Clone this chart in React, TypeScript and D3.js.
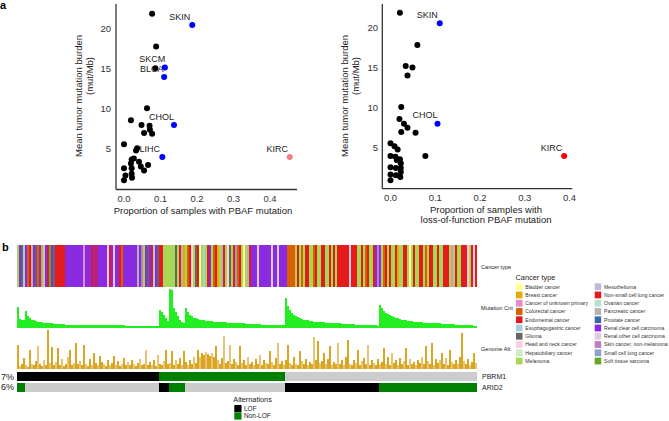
import React from 'react';
import * as d3 from 'd3';

// ---- panel a data ----
const xTicks = [0, 0.1, 0.2, 0.3, 0.4];
const yTicks = [5, 10, 15, 20];

// proportion of samples with PBAF mutation vs mean TMB (0 = other, 1 = highlighted, 2 = KIRC)
const pbafX = [0.077, 0.187, 0.088, 0.086, 0.112, 0.11, 0.063, 0.137, 0.019, 0.048, 0.07, 0.071, 0.055, 0.077,
  0.0, 0.036, 0.033, 0.105, 0.454, 0.021, 0.027, 0.041, 0.019, 0.0, 0.021, 0.046, 0.066, 0.055, 0.021, 0.022, 0.004, 0.0];
const pbafY = [21.9, 20.5, 17.8, 15.1, 15.2, 14.0, 10.1, 8.0, 8.6, 8.0, 7.9, 7.4, 7.0, 6.9,
  5.6, 5.1, 4.8, 4.0, 4.0, 3.7, 3.8, 3.4, 3.2, 2.6, 2.6, 2.8, 3.0, 2.3, 1.9, 1.4, 1.7, 1.1];
const pbafGroup = [0, 1, 0, 0, 1, 1, 0, 1, 0, 0, 0, 0, 0, 0, 0, 0, 0, 1, 2, 0, 0, 0, 0, 0, 0, 0, 0, 0, 0, 0, 0, 0];
const pbafLabelIdx = [1, 4, 5, 7, 17, 18];
const pbafLabelText = ['SKIN', 'SKCM', 'BLCA', 'CHOL', 'LIHC', 'KIRC'];

// proportion with loss-of-function PBAF mutation vs mean TMB
const lofX = [0.021, 0.11, 0.06, 0.034, 0.049, 0.038, 0.024, 0.105, 0.02, 0.03, 0.038, 0.024, 0.056, 0.0,
  0.009, 0.016, 0.078, 0.388, 0.0, 0.011, 0.021, 0.023, 0.014, 0.0, 0.012, 0.023, 0.023, 0.0, 0.012, 0.022, 0.0];
const lofY = [21.8, 20.5, 17.8, 15.2, 15.0, 14.0, 10.1, 8.0, 8.6, 8.0, 7.5, 7.0, 6.9, 5.6,
  5.2, 4.8, 4.0, 4.0, 4.0, 3.9, 3.6, 3.1, 3.5, 2.6, 2.5, 2.5, 2.0, 1.7, 1.6, 1.4, 1.0];
const lofGroup = [0, 1, 0, 0, 0, 0, 0, 1, 0, 0, 0, 0, 0, 0, 0, 0, 0, 2, 0, 0, 0, 0, 0, 0, 0, 0, 0, 0, 0, 0, 0];
const lofLabelIdx = [1, 7, 17];
const lofLabelText = ['SKIN', 'CHOL', 'KIRC'];

// ---- panel b data ----
const cancerTypes = ['Bladder cancer', 'Breast cancer', 'Cancer of unknown primary', 'Colorectal cancer',
  'Endometrial cancer', 'Esophagogastric cancer', 'Glioma', 'Head and neck cancer', 'Hepatobiliary cancer',
  'Melanoma', 'Mesothelioma', 'Non-small cell lung cancer', 'Ovarian cancer', 'Pancreatic cancer',
  'Prostate cancer', 'Renal clear cell carcinoma', 'Renal other cell carcinoma', 'Skin cancer, non-melanoma',
  'Small cell lung cancer', 'Soft tissue sarcoma'];
const cancerCodes = 'abcdefghijklmnopqrst';
const cancerColors = ['#ffff99', '#e6ab02', '#e78ac3', '#d95f02', '#e31a1c', '#a6cee3', '#666666', '#fccde5',
  '#ccebc5', '#a6d854', '#bebada', '#e41a1c', '#b3e2cd', '#b3b3b3', '#386cb0', '#8a2be2', '#decbe4',
  '#bc80bd', '#8da0cb', '#66a61e'];

// one letter per sample (cancerCodes)
const sampleTypes = [
  'jpgfpdlnpgdpbfpltpg', 'lllll', 'ppppppppp', 'c', 'ppplplpppppqlpqppldp', 'pppppp', 'nprjpgplfpgl',
  'ljjjjjj', 'gjlnbjdlhjglajfjlpjdlbjnljhgjlsdljajnl', 'pppqppppppqppqpppp', 'dddd', 'jljdjlljjdljjlljjl',
  'jlj', 'llllllhlll', 'jjljdljjl', 'prp', 'jdljljjlbjjlljajljjlljdjlljjljjllljcjljjlllhjlhl',
].join('');

const mutationCnt = [
  54, 22, 21, 20,
  42, 30, 24, 21, 19, 17, 16, 15, 14, 13, 12, 12, 11, 11, 10, 10, 10, 9, 9, 9, 8, 8, 8, 8, 7, 7, 7, 7, 7, 7,
  7, 7, 6, 6, 6, 6, 6, 6, 6, 6, 6, 6, 6, 6, 6, 6, 6, 6, 6, 6, 5, 5, 5, 5, 5, 5, 5, 5, 5, 5, 5, 5, 4, 4, 4, 4, 4,
  46, 40, 34, 24, 17,
  100, 98, 51, 40, 30, 21, 16, 11,
  51, 40, 33, 29, 26, 24, 22, 21, 20, 19, 18, 18, 17, 17, 16, 16, 15, 15, 15, 14, 14, 13, 13, 13, 12, 12, 12,
  11, 11, 11, 10, 10, 10, 10, 9, 9, 9, 9, 8, 8, 8, 8, 8, 7, 7, 7, 7, 6, 6, 6,
  77, 55, 45, 38, 33, 30, 27, 25, 23, 21, 20, 19, 18, 17, 16, 16, 15, 15, 14, 14, 13, 13, 12, 12, 12, 11, 11,
  11, 10, 10, 10, 9, 9, 9, 9, 8, 8, 8, 8, 8, 7, 7, 7, 6, 6, 6, 5,
  59, 50, 44, 39, 35, 32, 29, 27, 25, 24, 22, 21, 20, 19, 18, 17, 17, 16, 15, 15, 14, 14, 13, 13, 13, 12, 12,
  12, 11, 11, 11, 10, 10, 10, 9, 9, 9, 9, 8, 8, 8, 8, 7, 7, 7, 6, 6, 5, 4,
];

const genomeAlt = [
  62, 8, 12, 28, 10, 6, 50, 14, 9, 20, 58, 12, 7, 22, 10, 100, 15, 57, 9, 18,
  54, 11, 25, 8, 14, 30, 50, 10, 16, 67, 12, 20, 9, 62, 14, 8, 26, 11, 41, 15,
  9, 33, 18, 12, 7, 24, 10, 15, 33, 11, 20, 8, 14, 28, 10, 17, 9, 22, 12, 8,
  15, 26, 10, 13, 50, 9, 18, 11, 24, 8, 37, 14, 10, 20, 48, 12, 16, 46, 9, 22,
  14, 28, 11, 46, 18, 10, 24, 13, 30, 15, 50, 32, 40, 36, 44, 38, 34, 42, 30, 58,
  22, 14, 28, 84, 16, 20, 62, 12, 26, 18, 10, 58, 15, 24, 9, 30, 13, 19, 11, 26,
  14, 37, 10, 22, 16, 12, 46, 18, 9, 28, 67, 12, 20, 10, 24, 62, 15, 9, 30, 14,
  11, 46, 20, 13, 26, 10, 18, 12, 82, 24, 72, 15, 20, 41, 12, 26, 58, 10, 18, 14,
  67, 12, 24, 10, 30, 75, 14, 9, 22, 16, 50, 11, 20, 28, 13, 62, 10, 24, 15, 9,
  26, 14, 18, 54, 12, 30, 10, 41, 16, 22, 9, 28, 14, 20, 54, 11, 26, 13, 18, 10,
  24, 15, 30, 12, 58, 20, 14, 67, 10, 26, 16, 22, 41, 12, 28, 9, 50, 18, 14, 24,
  12, 30, 92, 20, 14, 26, 10, 18, 41, 15,
];

const genes = ['PBRM1', 'ARID2'];
const genePct = ['7%', '6%'];
// runs of [alteration, sample count]
const pbrm1Runs: [string, number][] = [['LOF', 71], ['Non-LOF', 63], ['none', 96]];
const arid2Runs: [string, number][] = [['Non-LOF', 4], ['none', 67], ['LOF', 5], ['Non-LOF', 8], ['none', 50], ['LOF', 47], ['Non-LOF', 49]];
const altTypes = ['LOF', 'Non-LOF'];

const FONT = 'Liberation Sans, Arial, Helvetica, sans-serif';
const altColor: Record<string, string> = { LOF: '#000000', 'Non-LOF': '#008000', none: '#cccccc' };
const dotColor = ['#000000', '#0000ff'];

function Scatter({ xs, ys, groups, labelIdx, labelText, axisX, axisTop, axisRight, x0, x04, y0, y20, kircColor, titleLines, titleX, tickRight }: any) {
  const x = d3.scaleLinear().domain([0, 0.4]).range([x0, x04]);
  const y = d3.scaleLinear().domain([0, 20]).range([y0, y20]);
  const axisY = y0 + 0.5;
  return (
    <g fontFamily={FONT}>
      <line x1={axisX} x2={axisX} y1={axisTop} y2={axisY} stroke="#333" strokeWidth={1.3} />
      <line x1={axisX} x2={axisRight} y1={axisY} y2={axisY} stroke="#333" strokeWidth={1.3} />
      {yTicks.map(t => (
        <text key={t} x={tickRight} y={y(t)} dy="0.35em" textAnchor="end" fontSize={9.5} fill="#333">{t}</text>
      ))}
      {xTicks.map(t => (
        <text key={t} x={x(t)} y={axisY + 12.5} textAnchor="middle" fontSize={9.5} fill="#333">{d3.format('.1f')(t)}</text>
      ))}
      {labelIdx.map((i: number, k: number) => (
        <text key={k} x={x(xs[i]) - 12.5} y={y(ys[i]) - 8.5} dy="0.35em" textAnchor="middle" fontSize={9} fill="#222">{labelText[k]}</text>
      ))}
      {xs.map((v: number, i: number) => (
        <circle key={i} cx={x(v)} cy={y(ys[i])} r={3} fill={groups[i] === 2 ? kircColor : dotColor[groups[i]]} />
      ))}
      {titleLines.map((s: string, k: number) => (
        <text key={k} x={(x0 + x04) / 2 + 6} y={axisY + 24.5 + k * 10} textAnchor="middle" fontSize={9.5} fill="#222">{s}</text>
      ))}
      <text transform={`translate(${titleX},96) rotate(-90)`} textAnchor="middle" fontSize={9.5} fill="#222">Mean tumor mutation burden</text>
      <text transform={`translate(${titleX + 11},76) rotate(-90)`} textAnchor="middle" fontSize={9.5} fill="#222">(mut/Mb)</text>
    </g>
  );
}

function runsToRects(runs: [string, number][]) {
  let start = 0;
  return runs.map(([type, n]) => {
    const r = { type, start, n };
    start += n;
    return r;
  });
}

export default function App() {
  const N = sampleTypes.length;
  const X0 = 17.3, X1 = 476.7;
  const sx = d3.scaleLinear().domain([0, N]).range([X0, X1]);
  const mx = d3.scaleLinear().domain([0, mutationCnt.length]).range([X0, X1]);
  const gx = d3.scaleLinear().domain([0, genomeAlt.length]).range([X0, X1]);
  const my = d3.scaleLinear().domain([0, 100]).range([327.7, 289]);
  const gy = d3.scaleLinear().domain([0, 100]).range([369, 330]);
  const ax = d3.scaleLinear().domain([0, 230]).range([X0, X1]);
  const rowY = [372.3, 382.7];
  const rowH = 8.9;
  const legendRow = d3.scaleLinear().domain([0, 1]).range([283.3, 291.56]);

  return (
    <svg width={669} height={421} style={{ position: 'absolute', left: 0, top: 0, background: '#fff' }}>
      <text x={0} y={9} fontFamily={FONT} fontWeight="bold" fontSize={11}>a</text>
      <text x={2} y={251} fontFamily={FONT} fontWeight="bold" fontSize={11}>b</text>

      <Scatter xs={pbafX} ys={pbafY} groups={pbafGroup} labelIdx={pbafLabelIdx} labelText={pbafLabelText}
        axisX={116} axisTop={4} axisRight={297} x0={124} x04={270} y0={189} y20={29} kircColor="#f08080"
        titleLines={['Proportion of samples with PBAF mutation']} titleX={82} tickRight={111} />
      <Scatter xs={lofX} ys={lofY} groups={lofGroup} labelIdx={lofLabelIdx} labelText={lofLabelText}
        axisX={382.3} axisTop={4} axisRight={572.3} x0={390.5} x04={569.5} y0={188.2} y20={27.3} kircColor="#ff0000"
        titleLines={['Proportion of samples with', 'loss-of-function  PBAF mutation']} titleX={348} tickRight={378} />

      {/* cancer type track */}
      <g shapeRendering="crispEdges">
        {sampleTypes.split('').map((c, i) => (
          <rect key={i} x={sx(i)} y={245} width={sx(i + 1) - sx(i) + 0.2} height={41.7}
            fill={cancerColors[cancerCodes.indexOf(c)]} />
        ))}
      </g>
      {/* mutation count */}
      <g shapeRendering="crispEdges">
        {mutationCnt.map((v, i) => (
          <rect key={i} x={mx(i)} y={my(v)} width={mx(i + 1) - mx(i) + 0.2} height={my(0) - my(v)} fill="#22ee22" />
        ))}
      </g>
      {/* genome alteration */}
      <g shapeRendering="crispEdges">
        {genomeAlt.map((v, i) => (
          <rect key={i} x={gx(i)} y={gy(v)} width={gx(i + 1) - gx(i) + 0.2} height={gy(0) - gy(v)}
            fill={i % 3 === 1 ? '#e8c374' : '#daa520'} />
        ))}
      </g>
      {/* alterations */}
      {[pbrm1Runs, arid2Runs].map((runs, r) => (
        <g key={r} shapeRendering="crispEdges">
          {runsToRects(runs).map((d, k) => (
            <rect key={k} x={ax(d.start)} y={rowY[r]} width={ax(d.start + d.n) - ax(d.start)} height={rowH} fill={altColor[d.type]} />
          ))}
          <text x={14} y={rowY[r] + rowH / 2} dy="0.35em" textAnchor="end" fontFamily={FONT} fontSize={9} fill="#222">{genePct[r]}</text>
          <text x={482} y={rowY[r] + rowH / 2} dy="0.35em" fontFamily={FONT} fontSize={7} fill="#222">{genes[r]}</text>
        </g>
      ))}

      {/* track labels */}
      <g fontFamily={FONT} fontSize={5.6} fill="#222">
        <text x={481} y={267.3} dy="0.35em">Cancer type</text>
        <text x={481} y={307.7} dy="0.35em">Mutation Cnt</text>
        <text x={481} y={349.3} dy="0.35em">Genome Alt</text>
      </g>

      {/* cancer type legend */}
      <g fontFamily={FONT}>
        <text x={515.5} y={280} fontSize={7.4} fill="#222">Cancer type</text>
        {cancerTypes.map((name, i) => {
          const col = Math.floor(i / 10);
          const row = i % 10;
          const bx = col === 0 ? 516 : 594.7;
          const by = legendRow(row);
          return (
            <g key={name}>
              <rect x={bx} y={by} width={6.5} height={6.8} fill={cancerColors[i]} />
              <text x={bx + 9.3} y={by + 3.4} dy="0.35em" fontSize={5.15} fill="#333">{name}</text>
            </g>
          );
        })}
      </g>

      {/* alterations legend */}
      <g fontFamily={FONT}>
        <text x={233.3} y={402} fontSize={7.3} fill="#222">Alternations</text>
        {altTypes.map((t, i) => (
          <g key={t}>
            <rect x={234.3} y={405 + i * 7.4} width={7.2} height={7.2} fill={altColor[t]} />
            <text x={244} y={405 + i * 7.4 + 3.7} dy="0.35em" fontSize={6.5} fill="#222">{t}</text>
          </g>
        ))}
      </g>
    </svg>
  );
}
